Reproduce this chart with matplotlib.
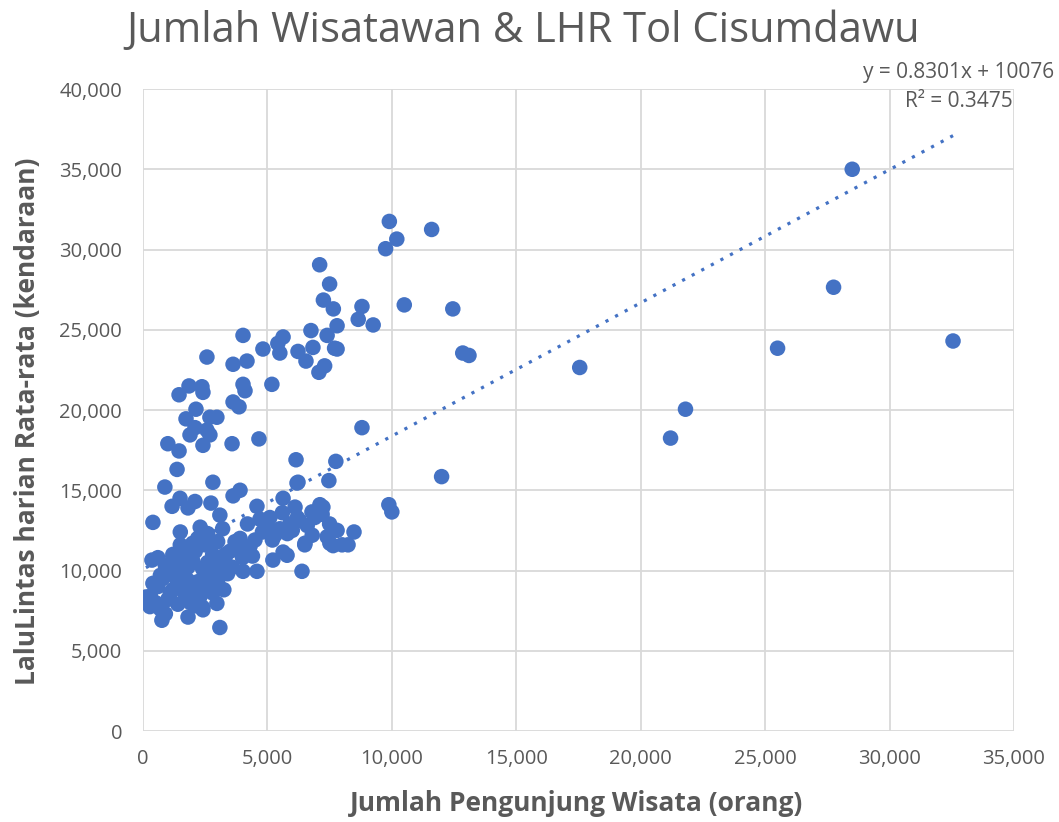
import numpy as np
import matplotlib
matplotlib.use("Agg")
import matplotlib.pyplot as plt
from matplotlib.ticker import MultipleLocator, FuncFormatter

# jumlah pengunjung wisata (orang) vs LHR (kendaraan)
pengunjung = [
    # outlier kanan
    28500, 32550, 27750, 25500, 21800, 21200, 17550, 12000, 11600, 12450, 12850, 13100,
    9900, 10200, 9750, 10500, 9250, 8800, 8650, 7500, 7100, 7250, 7650, 7800, 7400, 7800, 7300,
    # kelompok atas
    4020, 2570, 3620, 4180, 4820, 5630, 5420, 5500, 6230, 6550, 6750, 6830, 7070, 7700,
    1450, 1850, 2370, 2410, 4020, 4100, 5180, 3620, 3860, 2130, 1730, 2690, 2970,
    2090, 2570, 1890, 2690, 2410, 1000, 1450, 3580, 4660, 1370, 6150, 2810, 880, 6230,
    7750, 7470, 8800, 9880, 10000, 8480, 8240, 7640, 7230,
    3620, 3900, 1490, 1170, 2090, 1810, 2730, 400, 4580, 5630, 6190, 3090, 6110, 7110, 6790,
    # kelompok bawah
    3090, 760, 1810, 2410, 2970, 3250, 280, 120, 360, 6390, 5790, 5220, 4580, 4020, 7510, 6510, 5630,
    300, 500, 700, 900, 1000, 1200, 1400, 1600, 1800, 2000, 600, 800, 1000, 1300, 1500, 1700,
    1900, 2100, 2300, 2500, 2700, 2900, 3100, 3300, 1100, 1400, 2200, 2400, 2600, 2800, 1800,
    2000, 2200, 2500, 1600, 400, 700, 900, 1200, 3500, 3700, 3900, 4200, 4500, 4800, 5000,
    5300, 5500, 5900, 6300, 6600, 6900, 7200, 7500, 7800, 4000, 4300, 3600, 3000, 3400, 1500,
    2300, 2600, 3200, 4200, 4700, 5100, 5600, 6200, 6800, 7400, 8000, 6500, 5800, 3300, 2000,
    2800, 1300, 1800, 2400, 600, 1100, 1500, 2100, 2600, 3000, 3800, 4400, 5200, 6000,
]
lhr = [
    35000, 24300, 27650, 23850, 20050, 18250, 22650, 15850, 31250, 26300, 23550, 23400,
    31750, 30650, 30050, 26550, 25300, 26450, 25650, 27850, 29050, 26850, 26300, 25250, 24650, 23800, 22750,
    24650, 23300, 22850, 23050, 23800, 24550, 24150, 23550, 23650, 23050, 24950, 23900, 22350, 23850,
    20950, 21500, 21450, 21100, 21600, 21200, 21600, 20500, 20200, 20050, 19450, 19550, 19550,
    18900, 18750, 18450, 18450, 17800, 17900, 17450, 17900, 18200, 16300, 16900, 15500, 15200, 15500,
    16800, 15600, 18900, 14100, 13650, 12400, 11600, 11550, 13950,
    14650, 15000, 14500, 14000, 14300, 13900, 14200, 13000, 14000, 14500, 15450, 13450, 13950, 14100, 13650,
    # kelompok bawah
    6450, 6900, 7100, 7550, 7950, 8800, 7750, 8350, 10650, 9950, 10950, 10650, 9950, 9950, 11700, 11700, 11150,
    8400, 8000, 7600, 7300, 8200, 8800, 9300, 9800, 10200, 10600, 9000, 9500, 10000, 10400, 9000, 8500,
    8000, 7800, 8400, 9000, 9600, 10000, 10400, 10800, 8600, 7900, 9300, 10100, 10500, 11000, 11200,
    11700, 12000, 11600, 11000, 9200, 9700, 10300, 11000, 11200, 11800, 12000, 11200, 11900, 12400, 12800,
    12200, 12600, 12900, 13100, 12800, 13300, 13500, 12900, 12500, 10800, 11500, 10200, 9300, 9800, 12400,
    12700, 12300, 12600, 12900, 13200, 13300, 13600, 13300, 12200, 12100, 11600, 11600, 12300, 11000, 9000,
    8600, 9600, 9400, 7700, 10800, 10400, 11600, 11200, 9800, 11800, 11300, 10900, 11900, 12500,
]

slope, intercept = 0.8301, 10076

blue = "#4472C4"
grey = "#595959"

fig = plt.figure(figsize=(10.59, 8.22), dpi=100)
ax = fig.add_axes([0.135, 0.1107, 0.8225, 0.781])

ax.scatter(pengunjung, lhr, s=125, color=blue, edgecolors="none", zorder=3)

# garis tren linear (titik-titik)
xt = np.array([min(pengunjung), max(pengunjung)])
ax.plot(xt, slope * xt + intercept, color=blue, linestyle=(0, (1, 2.4)), linewidth=2.3, zorder=2)

ax.set_xlim(0, 35000)
ax.set_ylim(0, 40000)
ax.xaxis.set_major_locator(MultipleLocator(5000))
ax.yaxis.set_major_locator(MultipleLocator(5000))
fmt = FuncFormatter(lambda v, p: f"{int(v):,}")
ax.xaxis.set_major_formatter(fmt)
ax.yaxis.set_major_formatter(fmt)

for s in ax.spines.values():
    s.set_visible(False)
ax.grid(True, color="#D9D9D9", linewidth=1.3, zorder=0)
ax.set_axisbelow(True)
ax.tick_params(length=0, labelsize=14.5, labelcolor=grey)
ax.tick_params(axis="x", pad=13)
ax.tick_params(axis="y", pad=15)
for t in ax.get_xticklabels() + ax.get_yticklabels():
    t.set_fontfamily("Open Sans")

# label sumbu
fig.text(577 / 1059, 1 - 803 / 822, "Jumlah Pengunjung Wisata (orang)", ha="center", va="center",
         fontsize=19, fontweight="bold", color=grey, family="Open Sans")
fig.text(28 / 1059, 1 - 421 / 822, "LaluLintas harian Rata-rata (kendaraan)", ha="center", va="center",
         rotation=90, fontsize=19, fontweight="bold", color=grey, family="Open Sans")

fig.text(523 / 1059, 1 - 31 / 822, "Jumlah Wisatawan & LHR Tol Cisumdawu", ha="center", va="center",
         fontsize=30, color=grey, family="Open Sans")

ax.text(1.046, 1.0265, "y = 0.8301x + 10076", transform=ax.transAxes, ha="right", va="center",
        fontsize=15, color=grey, family="Open Sans")
ax.text(0.999, 0.981, "R² = 0.3475", transform=ax.transAxes, ha="right", va="center",
        fontsize=15, color=grey, family="Open Sans")

fig.savefig("out.png", dpi=100)
